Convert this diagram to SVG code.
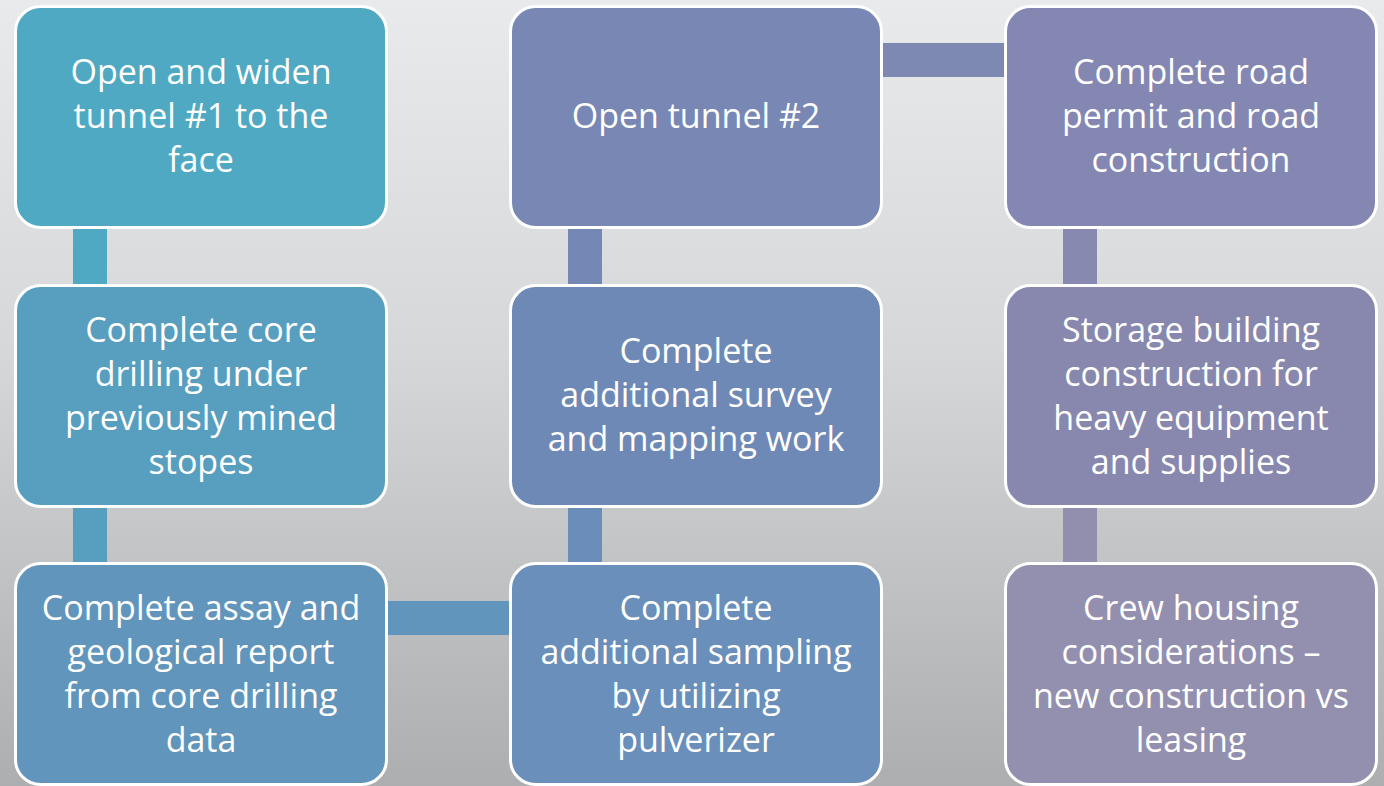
<svg xmlns="http://www.w3.org/2000/svg" width="1384" height="786" viewBox="0 0 1384 786">
<defs>
<linearGradient id="bg" x1="0" y1="0" x2="0" y2="1">
<stop offset="0" stop-color="#e9eaec"/>
<stop offset="0.45" stop-color="#d6d7d9"/>
<stop offset="1" stop-color="#adaeb0"/>
</linearGradient>
<style>
.box{stroke:#ffffff;stroke-width:3}
.t{font-family:"Open Sans","Noto Sans",sans-serif;font-size:34px;fill:#ffffff;text-anchor:middle}
</style>
</defs>
<rect x="0" y="0" width="1384" height="786" fill="url(#bg)"/>
<g id="connectors">
<rect x="73" y="228" width="34" height="57" fill="#50a9c3"/>
<rect x="73" y="507" width="34" height="56" fill="#579ebf"/>
<rect x="386" y="601" width="124" height="34" fill="#6195bb"/>
<rect x="568" y="228" width="34" height="57" fill="#7587b5"/>
<rect x="568" y="507" width="34" height="56" fill="#6b8db9"/>
<rect x="881" y="43" width="124" height="34" fill="#7d88b3"/>
<rect x="1063" y="228" width="34" height="57" fill="#8789b0"/>
<rect x="1063" y="507" width="34" height="56" fill="#928fae"/>
</g>
<g id="n1"><rect class="box" x="15.5" y="6.5" width="371" height="221" rx="25" fill="#50a9c3"/>
<text class="t" x="201" y="84">Open and widen</text><text class="t" x="201" y="128">tunnel #1 to the</text><text class="t" x="201" y="172">face</text></g>
<g id="n2"><rect class="box" x="15.5" y="285.5" width="371" height="221" rx="25" fill="#579ebf"/>
<text class="t" x="201" y="342">Complete core</text><text class="t" x="201" y="386">drilling under</text><text class="t" x="201" y="430">previously mined</text><text class="t" x="201" y="474">stopes</text></g>
<g id="n3"><rect class="box" x="15.5" y="563.5" width="371" height="221" rx="25" fill="#6195bb"/>
<text class="t" x="201" y="620">Complete assay and</text><text class="t" x="201" y="664">geological report</text><text class="t" x="201" y="708">from core drilling</text><text class="t" x="201" y="752">data</text></g>
<g id="n4"><rect class="box" x="510.5" y="6.5" width="371" height="221" rx="25" fill="#7887b3"/>
<text class="t" x="696" y="128">Open tunnel #2</text></g>
<g id="n5"><rect class="box" x="510.5" y="285.5" width="371" height="221" rx="25" fill="#6f89b6"/>
<text class="t" x="696" y="363">Complete</text><text class="t" x="696" y="407">additional survey</text><text class="t" x="696" y="451">and mapping work</text></g>
<g id="n6"><rect class="box" x="510.5" y="563.5" width="371" height="221" rx="25" fill="#698fba"/>
<text class="t" x="696" y="620">Complete</text><text class="t" x="696" y="664">additional sampling</text><text class="t" x="696" y="708">by utilizing</text><text class="t" x="696" y="752">pulverizer</text></g>
<g id="n7"><rect class="box" x="1005.5" y="6.5" width="371" height="221" rx="25" fill="#8387b2"/>
<text class="t" x="1191" y="84">Complete road</text><text class="t" x="1191" y="128">permit and road</text><text class="t" x="1191" y="172">construction</text></g>
<g id="n8"><rect class="box" x="1005.5" y="285.5" width="371" height="221" rx="25" fill="#8888af"/>
<text class="t" x="1191" y="342">Storage building</text><text class="t" x="1191" y="386">construction for</text><text class="t" x="1191" y="430">heavy equipment</text><text class="t" x="1191" y="474">and supplies</text></g>
<g id="n9"><rect class="box" x="1005.5" y="563.5" width="371" height="221" rx="25" fill="#938fae"/>
<text class="t" x="1191" y="620">Crew housing</text><text class="t" x="1191" y="664">considerations –</text><text class="t" x="1191" y="708">new construction vs</text><text class="t" x="1191" y="752">leasing</text></g>
</svg>
